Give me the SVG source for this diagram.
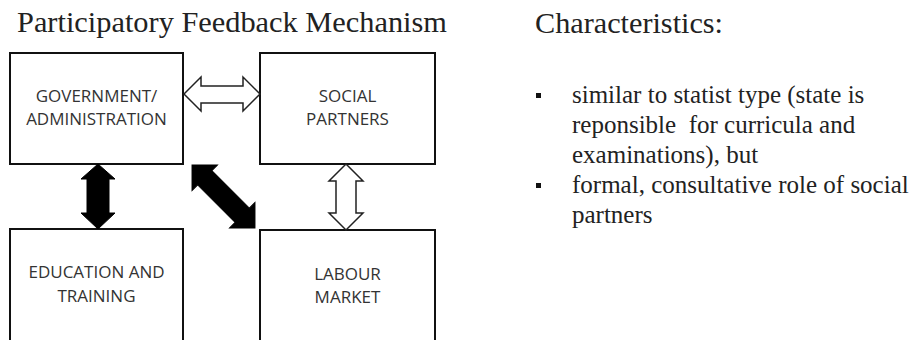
<svg xmlns="http://www.w3.org/2000/svg" width="913" height="340" viewBox="0 0 913 340">
<style>
.box{fill:#fff;stroke:#111;stroke-width:2}
.lbl{font-family:"Open Sans","Liberation Sans",sans-serif;font-size:17px;fill:#333;text-anchor:middle}
.ser{font-family:"Liberation Serif","Times New Roman",serif;fill:#222}
.hollow{fill:#fff;stroke:#222;stroke-width:1.5;stroke-linejoin:miter}
.solid{fill:#000;stroke:#000;stroke-width:1}
</style>
<rect width="913" height="340" fill="#fff"/>
<text class="ser" x="17" y="32" font-size="30" textLength="430" lengthAdjust="spacingAndGlyphs">Participatory Feedback Mechanism</text>
<text class="ser" x="535" y="33" font-size="30" textLength="188" lengthAdjust="spacingAndGlyphs">Characteristics:</text>
<g id="node-gov">
<rect class="box" x="10" y="53" width="173" height="111"/>
<text class="lbl" x="96.5" y="102">GOVERNMENT/</text>
<text class="lbl" x="96.5" y="125">ADMINISTRATION</text>
</g>
<g id="node-social">
<rect class="box" x="260" y="53" width="175" height="111"/>
<text class="lbl" x="347.5" y="102">SOCIAL</text>
<text class="lbl" x="347.5" y="125">PARTNERS</text>
</g>
<g id="node-edu">
<rect class="box" x="10" y="229" width="173" height="120"/>
<text class="lbl" x="96.5" y="278">EDUCATION AND</text>
<text class="lbl" x="96.5" y="302">TRAINING</text>
</g>
<g id="node-labour">
<rect class="box" x="260" y="230" width="175" height="120"/>
<text class="lbl" x="347.5" y="280">LABOUR</text>
<text class="lbl" x="347.5" y="303">MARKET</text>
</g>
<g id="connectors">
<polygon class="hollow" points="184,94 201,77 201,86 243,86 243,77 260,94 243,111 243,103 201,103 201,111"/>
<polygon class="solid" points="98,164 115,179 109,179 109,213 115,213 98,229 81,213 87,213 87,179 81,179"/>
<polygon class="hollow" points="346,164 363,181 356,181 356,213 363,213 346,230 329,213 336,213 336,181 329,181"/>
<polygon class="solid" transform="translate(223.5,196.5) rotate(45)" points="-44.5,0 -26.5,-18 -26.5,-10 26.5,-10 26.5,-18 44.5,0 26.5,18 26.5,10 -26.5,10 -26.5,18"/>
</g>
<g id="bullets">
<rect x="536" y="93" width="5" height="5" fill="#111"/>
<rect x="536" y="183" width="5" height="5" fill="#111"/>
<text class="ser" font-size="25" x="572" y="103">similar to statist type (state is</text>
<text class="ser" font-size="25" x="572" y="133" xml:space="preserve">reponsible  for curricula and</text>
<text class="ser" font-size="25" x="572" y="163">examinations), but</text>
<text class="ser" font-size="25" x="572" y="193">formal, consultative role of social</text>
<text class="ser" font-size="25" x="572" y="223">partners</text>
</g>
</svg>
